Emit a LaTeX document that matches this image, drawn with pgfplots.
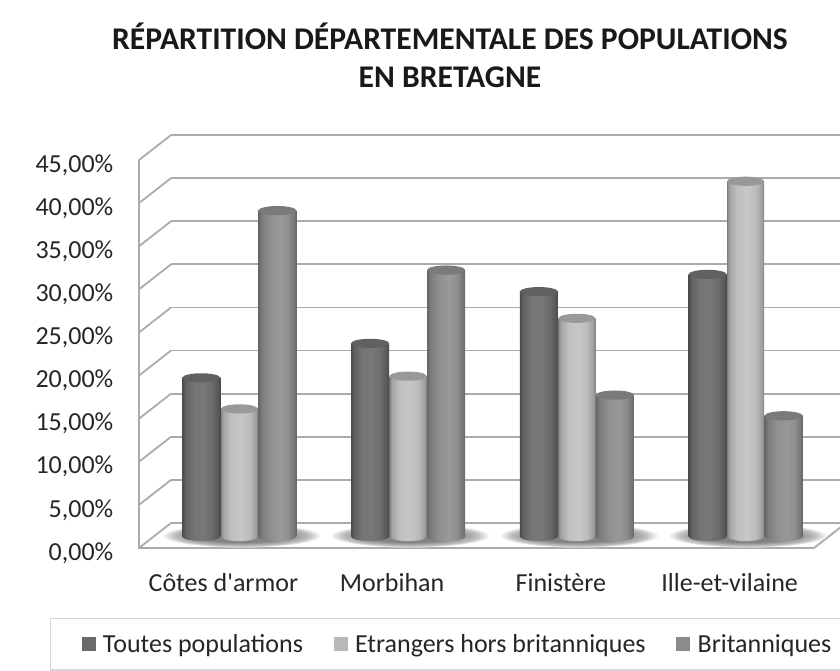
\documentclass[border=0pt]{standalone}
\usepackage{pgfplots}
\usepackage{pgfplotstable}
\usepackage{fontspec}
\setmainfont{Carlito}
\newfontfamily\cf{Carlito}
\pgfplotsset{compat=1.18}
\newlength\PX \setlength\PX{0.75pt}
\definecolor{gridc}{HTML}{ABABAB}
\definecolor{txt}{HTML}{262626}
\definecolor{legD}{HTML}{6A6A6A}
\definecolor{legL}{HTML}{B8B8B8}
\definecolor{legM}{HTML}{8C8C8C}
\pgfdeclarehorizontalshading{cylD}{100bp}{color(0bp)=(black!70); color(25bp)=(black!70); color(29bp)=(black!62); color(40bp)=(black!54); color(52bp)=(black!53); color(64bp)=(black!58); color(72bp)=(black!66); color(75bp)=(black!72); color(100bp)=(black!72)}
\pgfdeclarehorizontalshading{cylL}{100bp}{color(0bp)=(black!50); color(25bp)=(black!50); color(28bp)=(black!36); color(38bp)=(black!25); color(52bp)=(black!22); color(64bp)=(black!27); color(72bp)=(black!38); color(75bp)=(black!50); color(100bp)=(black!50)}
\pgfdeclarehorizontalshading{cylM}{100bp}{color(0bp)=(black!60); color(25bp)=(black!60); color(29bp)=(black!52); color(40bp)=(black!44); color(54bp)=(black!40); color(64bp)=(black!44); color(72bp)=(black!54); color(75bp)=(black!60); color(100bp)=(black!60)}
\pgfdeclareradialshading{shad}{\pgfpoint{0bp}{0bp}}{color(0bp)=(black!50); color(14bp)=(black!48); color(21bp)=(black!26); color(25bp)=(white); color(50bp)=(white)}
\pgfdeclareplotmark{topD}{\fill[draw=none,black!62,rotate=4] (0pt,0pt) ellipse [x radius=19\PX, y radius=4.6\PX];}
\pgfdeclareplotmark{topL}{\fill[draw=none,black!40,rotate=4] (0pt,0pt) ellipse [x radius=18.5\PX, y radius=4.6\PX];}
\pgfdeclareplotmark{topM}{\fill[draw=none,black!52,rotate=4] (0pt,0pt) ellipse [x radius=19\PX, y radius=4.6\PX];}
\pgfdeclareplotmark{botD}{\shade[draw=none,shading=cylD] (0pt,0pt) ellipse [x radius=19\PX, y radius=4.6\PX];}
\pgfdeclareplotmark{botL}{\shade[draw=none,shading=cylL] (0pt,0pt) ellipse [x radius=18.5\PX, y radius=4.6\PX];}
\pgfdeclareplotmark{botM}{\shade[draw=none,shading=cylM] (0pt,0pt) ellipse [x radius=19\PX, y radius=4.6\PX];}
\pgfdeclareplotmark{shadow}{\shade[draw=none,shading=shad] (0pt,0pt) ellipse [x radius=80\PX, y radius=12\PX];}
\pgfplotstableread{
x base toutes etrangers brit
0 0 18.4 14.8 37.8
1 0 22.4 18.6 30.9
2 0 28.4 25.3 16.4
3 0 30.4 41.2 14.0
}\datatab
\begin{document}
\begin{tikzpicture}
\path[use as bounding box] (0,0) rectangle (840\PX,671\PX);
\begin{axis}[
  at={(139\PX,123\PX)}, anchor=south west,
  scale only axis, width=675\PX, height=388\PX,
  xmin=-0.5, xmax=3.5, ymin=0, ymax=45,
  clip=false, clip mode=individual,
  axis line style={draw=none},
  major tick length=0pt,
  xtick={0,1,2,3},
  xticklabels={{\cf Côtes d'armor},Morbihan,Finistère,Ille-et-vilaine},
  ytick={0,5,...,45},
  yticklabels={{0,00\%},{5,00\%},{10,00\%},{15,00\%},{20,00\%},{25,00\%},{30,00\%},{35,00\%},{40,00\%},{45,00\%}},
  tick label style={font=\fontsize{19.5pt}{22pt}\selectfont, text=txt},
  yticklabel style={anchor=east, xshift=-21\PX, yshift=-5\PX},
  xticklabel style={anchor=base, yshift=-44\PX},
  title={RÉPARTITION DÉPARTEMENTALE DES POPULATIONS\\EN BRETAGNE},
  title style={at={(0.4607,1.250)}, anchor=center, align=center, font=\fontsize{23.7pt}{28.5pt}\selectfont\bfseries, text=black!90},
  legend columns=3,
  legend cell align=left,
  legend style={at={(-0.1319,-0.1804)}, anchor=north west, draw=black!16, line width=1pt,
    font=\fontsize{19.5pt}{22pt}\selectfont, text=txt, inner xsep=31\PX, inner ysep=13\PX,
    /tikz/every even column/.style={column sep=28\PX}},
  legsq/.style={legend image code/.code={\fill[draw=none,##1] (0pt,-7\PX) rectangle (14\PX,7\PX); \path (18\PX,0pt);}},
]
\addlegendimage{legsq, fill=legD}\addlegendentry{Toutes populations}
\addlegendimage{legsq, fill=legL}\addlegendentry{Etrangers hors britanniques}
\addlegendimage{legsq, fill=legM}\addlegendentry{Britanniques}

% back wall grid
\pgfplotsinvokeforeach{0,5,...,45}{
  \addplot[forget plot, gridc, line width=1.8\PX, xshift=32\PX, yshift=25\PX] coordinates {(-0.5,#1) (3.6,#1)};
}
% left wall diagonals
\addplot[forget plot, gridc, line width=1.8\PX] coordinates {(-0.5,5) (-0.31,7.9)};
\addplot[forget plot, gridc, line width=1.8\PX] coordinates {(-0.5,10) (-0.31,12.9)};
\addplot[forget plot, gridc, line width=1.8\PX] coordinates {(-0.5,15) (-0.31,17.9)};
\addplot[forget plot, gridc, line width=1.8\PX] coordinates {(-0.5,20) (-0.31,22.9)};
\addplot[forget plot, gridc, line width=1.8\PX] coordinates {(-0.5,25) (-0.31,27.9)};
\addplot[forget plot, gridc, line width=1.8\PX] coordinates {(-0.5,30) (-0.31,32.9)};
\addplot[forget plot, gridc, line width=1.8\PX] coordinates {(-0.5,35) (-0.31,37.9)};
\addplot[forget plot, gridc, line width=1.8\PX] coordinates {(-0.5,40) (-0.31,42.9)};
\addplot[forget plot, gridc, line width=1.8\PX] coordinates {(-0.5,45) (-0.31,47.9)};
% floor
\addplot[forget plot, gridc, line width=1.8\PX] coordinates {(-0.5,0) (-0.31,2.9)};
\addplot[forget plot, gridc, line width=1.8\PX] coordinates {(3.5,0) (3.69,2.9)};
\addplot[forget plot, gridc, line width=2.4\PX] coordinates {(-0.5,45) (-0.5,0) (3.5,0)};

% shadows
\addplot[forget plot, only marks, mark=shadow, xshift=18\PX, yshift=12.5\PX] table[x=x,y=base] {\datatab};

\pgfplotsinvokeforeach{0,1,2,3}{
% light bars (behind)
\addplot[forget plot, only marks, mark=botL, xshift=16\PX, yshift=11.5\PX, restrict x to domain=#1:#1] table[x=x,y=base] {\datatab};
\addplot[forget plot, ybar, bar width=37\PX, bar shift=0pt, draw=none, shade, shading=cylL, xshift=16\PX, yshift=11.5\PX, restrict x to domain=#1:#1] table[x=x,y=etrangers] {\datatab};
\addplot[forget plot, only marks, mark=topL, xshift=16\PX, yshift=11.5\PX, restrict x to domain=#1:#1] table[x=x,y=etrangers] {\datatab};
% dark bars
\addplot[forget plot, only marks, mark=botD, xshift=-22\PX, yshift=11.5\PX, restrict x to domain=#1:#1] table[x=x,y=base] {\datatab};
\addplot[forget plot, ybar, bar width=38\PX, bar shift=0pt, draw=none, shade, shading=cylD, xshift=-22\PX, yshift=11.5\PX, restrict x to domain=#1:#1] table[x=x,y=toutes] {\datatab};
\addplot[forget plot, only marks, mark=topD, xshift=-22\PX, yshift=11.5\PX, restrict x to domain=#1:#1] table[x=x,y=toutes] {\datatab};
% mid bars
\addplot[forget plot, only marks, mark=botM, xshift=54\PX, yshift=11.5\PX, restrict x to domain=#1:#1] table[x=x,y=base] {\datatab};
\addplot[forget plot, ybar, bar width=38\PX, bar shift=0pt, draw=none, shade, shading=cylM, xshift=54\PX, yshift=11.5\PX, restrict x to domain=#1:#1] table[x=x,y=brit] {\datatab};
\addplot[forget plot, only marks, mark=topM, xshift=54\PX, yshift=11.5\PX, restrict x to domain=#1:#1] table[x=x,y=brit] {\datatab};
}
\end{axis}
\end{tikzpicture}
\end{document}
